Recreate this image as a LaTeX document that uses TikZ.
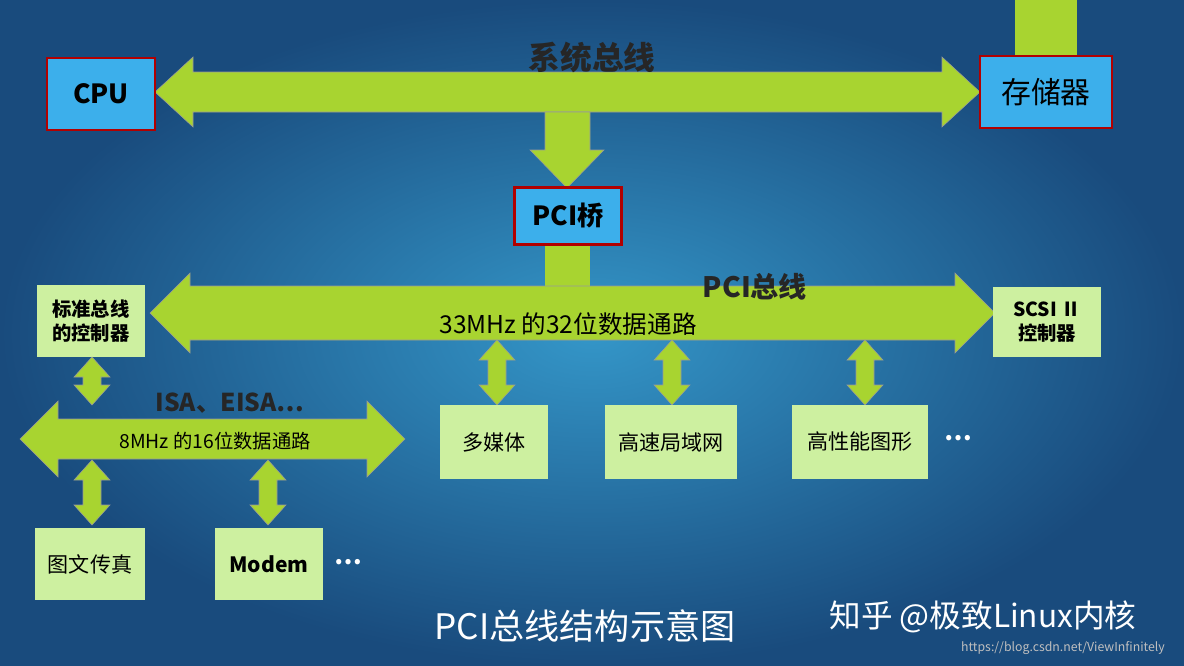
\documentclass[tikz,border=0pt]{standalone}
\usepackage{fontspec}
\setmainfont{Noto Sans CJK SC}
\begin{document}
\begin{tikzpicture}[x=0.02cm,y=-0.02cm,
 bb/.style={draw=red!70!black,line width=1.5pt,fill={rgb,255:red,60;green,175;blue,235},font=\bfseries\fontsize{15}{17}\selectfont,inner sep=0},
 gb/.style={fill={rgb,255:red,205;green,240;blue,160},draw=none,font=\fontsize{11}{14}\selectfont,align=center,inner sep=0},
 lb/.style={font=\bfseries\fontsize{16}{18}\selectfont,text=black!85},
 txt/.style={font=\fontsize{12}{14}\selectfont,text=black}]
\definecolor{ag}{HTML}{A8D430}
\useasboundingbox (0,0) rectangle (1184,666);
\shade[inner color={rgb,255:red,52;green,150;blue,200},outer color={rgb,255:red,25;green,75;blue,125}] (0,0) rectangle (1184,666);
\newcommand{\hda}[6]{\fill[ag,draw=black!40,line width=0.3pt] (#1,#3) -- (#1+#6,#3-#5) -- (#1+#6,#3-#4) -- (#2-#6,#3-#4) -- (#2-#6,#3-#5) -- (#2,#3) -- (#2-#6,#3+#5) -- (#2-#6,#3+#4) -- (#1+#6,#3+#4) -- (#1+#6,#3+#5) -- cycle;}
\newcommand{\vda}[6]{\fill[ag,draw=black!40,line width=0.3pt] (#3,#1) -- (#3-#5,#1+#6) -- (#3-#4,#1+#6) -- (#3-#4,#2-#6) -- (#3-#5,#2-#6) -- (#3,#2) -- (#3+#5,#2-#6) -- (#3+#4,#2-#6) -- (#3+#4,#1+#6) -- (#3+#5,#1+#6) -- cycle;}
\fill[ag] (1015,0) rectangle (1077,58);
\hda{155}{980}{92}{20}{35}{38}
\fill[ag,draw=black!40,line width=0.3pt] (545,112) -- (545,150) -- (530,150) -- (567,188) -- (604,150) -- (590,150) -- (590,112) -- cycle;
\node[lb,font=\bfseries\fontsize{18}{20}\selectfont] (sys) at (592,57) {系统总线};
\node[bb,minimum width=2.16cm,minimum height=1.44cm] (cpu) at (101,94) {CPU};
\node[bb,minimum width=2.64cm,minimum height=1.44cm,font=\fontsize{17}{19}\selectfont] (mem) at (1046,92) {存储器};
\fill[ag] (545,244) rectangle (590,290);
\node[bb,minimum width=2.14cm,minimum height=1.14cm] (pci) at (568,216) {PCI桥};
\hda{150}{995}{313}{27}{40}{40}
\node[lb] (pcib) at (755,287) {PCI总线};
\node[txt,font=\fontsize{14}{16}\selectfont] (pcit) at (568,324) {33MHz 的32位数据通路};
\node[gb,font=\bfseries\fontsize{11}{14}\selectfont,minimum width=2.16cm,minimum height=1.44cm] (std) at (91,321) {标准总线\\的控制器};
\node[gb,font=\bfseries\fontsize{11}{14}\selectfont,minimum width=2.18cm,minimum height=1.4cm] (scsi) at (1047,322) {SCSI Ⅱ\\控制器};
\vda{340}{405}{497}{9}{18}{20}
\vda{340}{405}{672}{9}{18}{20}
\vda{340}{405}{865}{9}{18}{20}
\node[gb,font=\fontsize{12}{14}\selectfont,minimum width=2.16cm,minimum height=1.5cm] (mm) at (494,442) {多媒体};
\node[gb,font=\fontsize{12}{14}\selectfont,minimum width=2.64cm,minimum height=1.5cm] (lan) at (671,442) {高速局域网};
\node[gb,font=\fontsize{12}{14}\selectfont,minimum width=2.72cm,minimum height=1.5cm] (gfx) at (860,442) {高性能图形};
\node[txt,text=white,font=\bfseries\fontsize{14}{14}\selectfont] (d1) at (958,438) {…};
\vda{357}{405}{92}{9}{18}{20}
\hda{20}{405}{439}{20}{38}{38}
\node[lb,font=\bfseries\fontsize{14}{16}\selectfont] (isa) at (230,403) {ISA、EISA…};
\node[txt,font=\fontsize{11}{13}\selectfont] (isat) at (215,441) {8MHz 的16位数据通路};
\vda{460}{525}{92}{9}{18}{20}
\vda{460}{525}{268}{9}{18}{20}
\node[gb,font=\fontsize{12}{14}\selectfont,minimum width=2.2cm,minimum height=1.46cm] (fax) at (90,564) {图文传真};
\node[gb,font=\bfseries\fontsize{12}{14}\selectfont,minimum width=2.16cm,minimum height=1.46cm] (modem) at (269,564) {Modem};
\node[txt,text=white,font=\bfseries\fontsize{14}{14}\selectfont] (d2) at (348,562) {…};
\node[text=white,font=\fontsize{20}{22}\selectfont] (cap) at (585,626) {PCI总线结构示意图};
\node[text=white,font=\fontsize{18}{20}\selectfont] (zh) at (983,617) {知乎 @极致Linux内核};
\node[text=white!75!black,font=\fontsize{7}{8}\selectfont] (wm) at (1063,648) {https://blog.csdn.net/ViewInfinitely};
\end{tikzpicture}
\end{document}
